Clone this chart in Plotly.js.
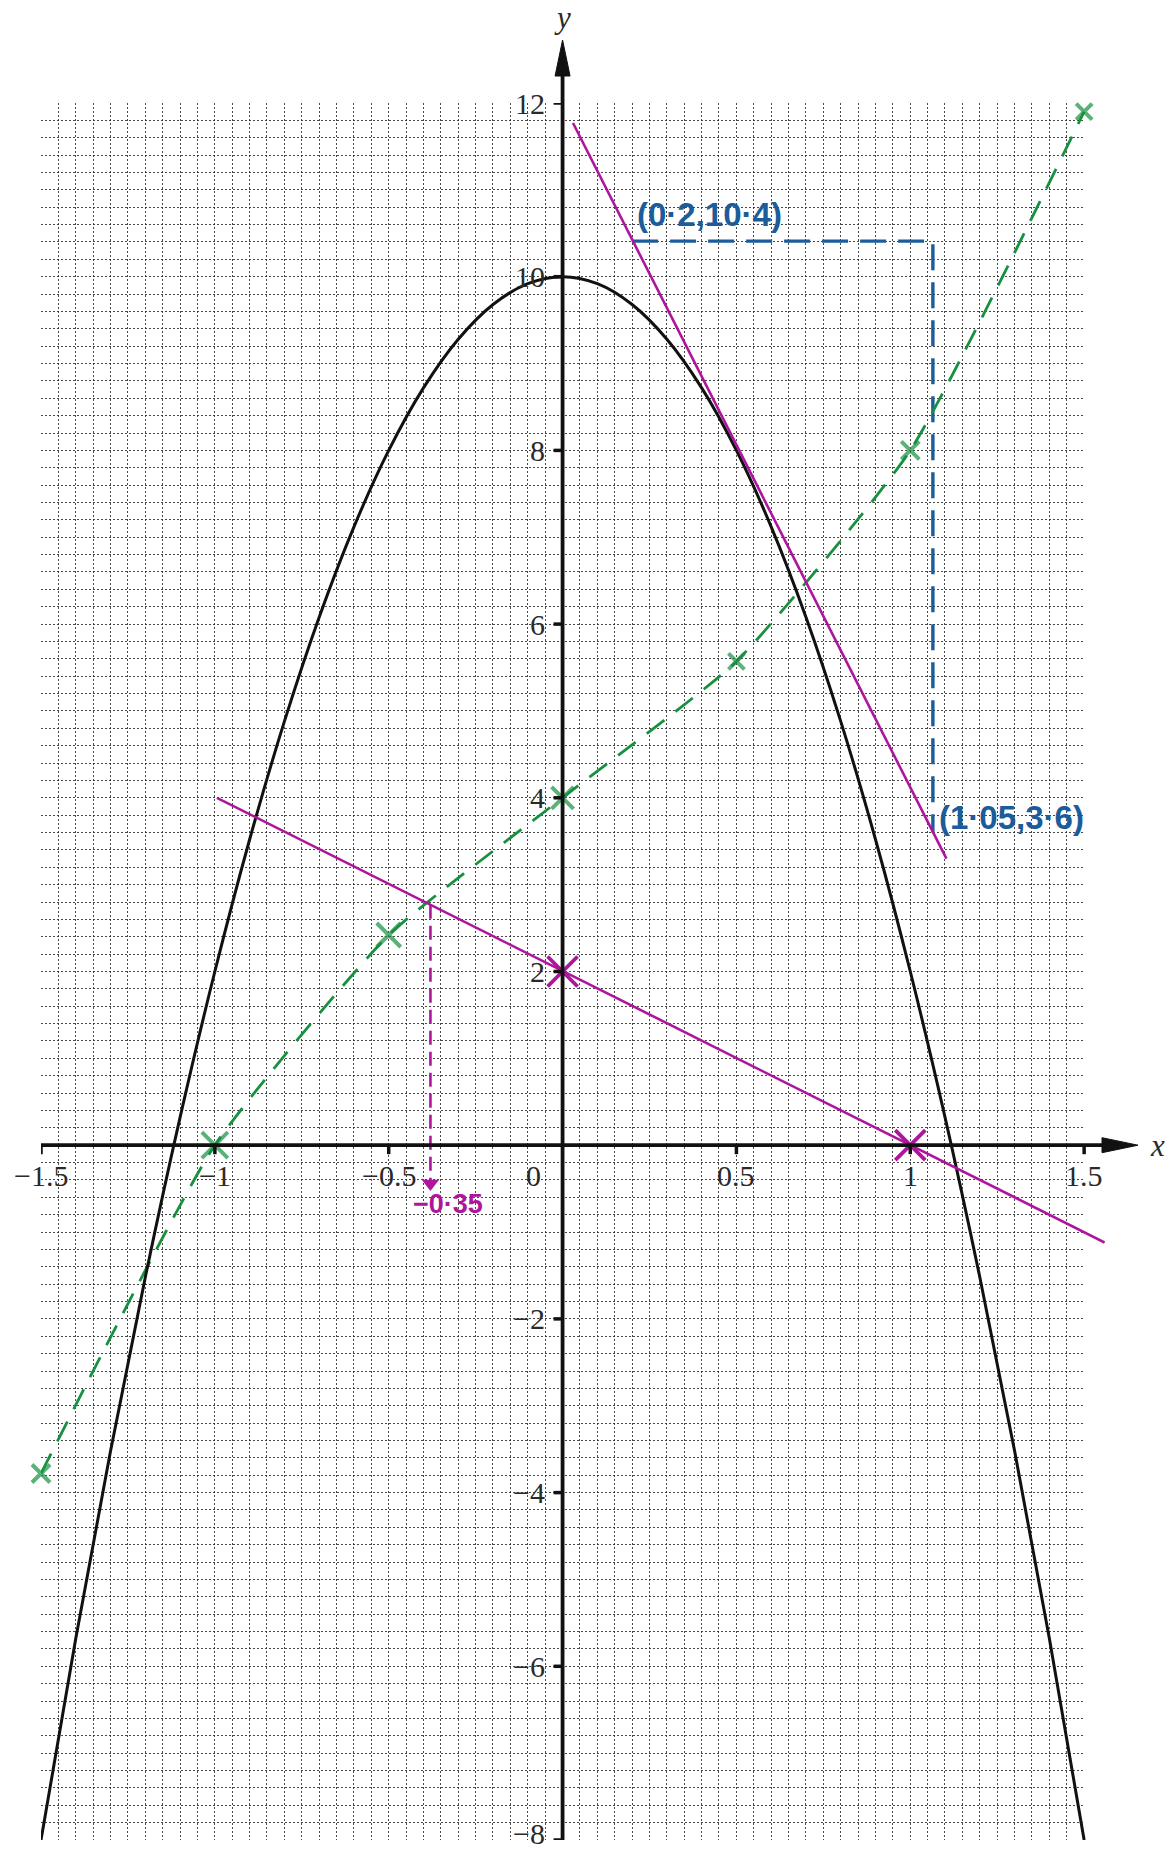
<!DOCTYPE html>
<html>
<head>
<meta charset="utf-8">
<script src="https://cdn.plot.ly/plotly-3.0.1.min.js"></script>
<style>
  html, body { margin: 0; padding: 0; background: #fff; }
  #plot { width: 1176px; height: 1852px; }
</style>
</head>
<body>
<div id="plot"></div>
<script>
// --- data ---
const curveX = [-1.5, -1.4, -1.3, -1.2, -1.1, -1.0, -0.9, -0.8, -0.7, -0.6, -0.5, -0.4, -0.3, -0.2, -0.1, 0,
                0.1, 0.2, 0.3, 0.4, 0.5, 0.6, 0.7, 0.8, 0.9, 1.0, 1.1, 1.2, 1.3, 1.4, 1.5];
const curveY = [-8, -5.68, -3.52, -1.52, 0.32, 2, 3.52, 4.88, 6.08, 7.12, 8, 8.72, 9.28, 9.68, 9.92, 10,
                9.92, 9.68, 9.28, 8.72, 8, 7.12, 6.08, 4.88, 3.52, 2, 0.32, -1.52, -3.52, -5.68, -8];

const tangentX = [0.03, 1.104];
const tangentY = [11.77, 3.3];

const straightX = [-0.994, 1.559];
const straightY = [4.0, -1.12];

const crossX = [0, 1];
const crossY = [2, 0];

const greenX = [-1.5, -1, -0.5, 0, 0.5, 1, 1.5];
const greenY = [-3.78, 0, 2.42, 4, 5.57, 8, 11.9];

const dropX = [-0.38, -0.38];
const dropY = [2.77, -0.44];

const blueX = [0.2, 1.065, 1.065];
const blueY = [10.41, 10.41, 3.6];

const xTickVals = [-1.5, -1, -0.5, 0.5, 1, 1.5];
const xTickText = ['\u22121.5', '\u22121', '\u22120.5', '0.5', '1', '1.5'];
const yTickVals = [12, 10, 8, 6, 4, 2, -2, -4, -6, -8];
const yTickText = ['12', '10', '8', '6', '4', '2', '\u22122', '\u22124', '\u22126', '\u22128'];

const noteText = ['(0\u00b72,10\u00b74)', '(1\u00b705,3\u00b76)', '\u22120\u00b735'];
const noteX = [0.423, 1.29, -0.33];
const noteY = [10.72, 3.77, -0.68];

// --- geometry ---
const W = 1176, H = 1852;
const M = { l: 41, r: 71, t: 103, b: 12 };
const gridRange = [-1.5, 1.5];      // the squared paper
const xRange = [-1.5, 1.56];        // a little room on the right for the line
const yRange = [-8, 12];
const pw = W - M.l - M.r, ph = H - M.t - M.b;
const gridDomainEnd = (1084 - M.l) / pw;

const paperX = v => (v - xRange[0]) / (xRange[1] - xRange[0]);
const paperY = v => (v - yRange[0]) / (yRange[1] - yRange[0]);
const pxToPaperX = px => (px - M.l) / pw;
const pxToPaperY = py => (H - M.b - py) / ph;

const magenta = '#ad169c';
const green = '#17913f';
const blue = '#1b5c9a';
const serif = 'Liberation Serif, Times New Roman, serif';
const hand = 'Liberation Sans Narrow, Arial Narrow, sans-serif';

const ox = paperX(0), oy = paperY(0);

// axis arrows (paper coordinates, not clipped)
const yTip = pxToPaperY(40), yBase = pxToPaperY(76);
const xTip = pxToPaperX(1138), xBase = pxToPaperX(1102);
const hw = 7.5 / pw, hh = 7.5 / ph;

const shapes = [
  { type: 'line', xref: 'paper', yref: 'paper', x0: ox, x1: ox, y0: 0, y1: yBase,
    line: { color: '#111', width: 3.8 } },
  { type: 'line', xref: 'paper', yref: 'paper', x0: 0, x1: xBase, y0: oy, y1: oy,
    line: { color: '#111', width: 3.8 } },
  { type: 'path', xref: 'paper', yref: 'paper',
    path: `M ${ox - hw} ${yBase} L ${ox} ${yTip} L ${ox + hw} ${yBase} Z`,
    fillcolor: '#111', line: { color: '#111', width: 1 } },
  { type: 'path', xref: 'paper', yref: 'paper',
    path: `M ${xBase} ${oy + hh} L ${xTip} ${oy} L ${xBase} ${oy - hh} Z`,
    fillcolor: '#111', line: { color: '#111', width: 1 } }
];

xTickVals.forEach(v => shapes.push({
  type: 'line', xref: 'x2', yref: 'y2', ysizemode: 'pixel', yanchor: 0,
  x0: v, x1: v, y0: -9, y1: 0, line: { color: '#111', width: 3.5 }
}));
yTickVals.forEach(v => shapes.push({
  type: 'line', xref: 'x2', yref: 'y2', xsizemode: 'pixel', xanchor: 0,
  x0: -9, x1: 0, y0: v, y1: v, line: { color: '#111', width: 3.5 }
}));

const annotations = [];
xTickVals.forEach((v, i) => annotations.push({
  xref: 'x2', yref: 'paper', x: v, y: oy, yshift: -30, text: xTickText[i],
  showarrow: false, xanchor: 'center', yanchor: 'middle',
  font: { family: serif, size: 30, color: '#2a2a2a' }
}));
annotations.push({
  xref: 'x2', yref: 'paper', x: 0, y: oy, xshift: -29, yshift: -30, text: '0',
  showarrow: false, xanchor: 'center', yanchor: 'middle',
  font: { family: serif, size: 30, color: '#2a2a2a' }
});
yTickVals.forEach((v, i) => annotations.push({
  xref: 'paper', yref: 'y2', x: ox, y: v, xshift: -16, yshift: v === -8 ? 7 : 0,
  text: yTickText[i], showarrow: false, xanchor: 'right', yanchor: 'middle',
  font: { family: serif, size: 30, color: '#2a2a2a' }
}));
annotations.push({
  xref: 'paper', yref: 'paper', x: ox, y: pxToPaperY(18), text: '<i>y</i>',
  showarrow: false, xanchor: 'center', yanchor: 'middle',
  font: { family: serif, size: 31, color: '#2a2a2a' }
});
annotations.push({
  xref: 'paper', yref: 'paper', x: pxToPaperX(1157), y: oy, text: '<i>x</i>',
  showarrow: false, xanchor: 'center', yanchor: 'middle',
  font: { family: serif, size: 31, color: '#2a2a2a' }
});
noteText.forEach((t, i) => annotations.push({
  xref: 'x2', yref: 'y2', x: noteX[i], y: noteY[i], text: '<b>' + t + '</b>',
  showarrow: false, xanchor: 'center', yanchor: 'middle',
  font: { family: hand, size: i === 2 ? 27 : 33, color: i === 2 ? magenta : blue }
}));

const onMain = { xaxis: 'x2', yaxis: 'y2', type: 'scatter', hoverinfo: 'skip' };

const traces = [
  // carries the squared paper (grid) subplot
  { x: [], y: [], type: 'scatter', xaxis: 'x', yaxis: 'y', hoverinfo: 'skip' },
  Object.assign({
    x: blueX, y: blueY, mode: 'lines',
    line: { color: blue, width: 3.4, dash: '26px,12px' }
  }, onMain),
  Object.assign({
    x: greenX, y: greenY, mode: 'lines',
    line: { color: green, width: 2.8, dash: '22px,14px', shape: 'spline', smoothing: 0.5 }
  }, onMain),
  Object.assign({
    x: greenX, y: greenY, mode: 'markers', cliponaxis: false,
    marker: { symbol: 'x-thin', size: [18, 26, 24, 22, 16, 18, 16], color: green,
              line: { color: green, width: 4 } }
  }, onMain),
  Object.assign({
    x: curveX, y: curveY, mode: 'lines',
    line: { color: '#111', width: 3, shape: 'spline', smoothing: 1 }
  }, onMain),
  Object.assign({
    x: tangentX, y: tangentY, mode: 'lines',
    line: { color: magenta, width: 2.6 }
  }, onMain),
  Object.assign({
    x: straightX, y: straightY, mode: 'lines',
    line: { color: magenta, width: 2.6 }
  }, onMain),
  Object.assign({
    x: crossX, y: crossY, mode: 'markers',
    marker: { symbol: 'x-thin', size: 30, color: magenta, line: { color: magenta, width: 3.8 } }
  }, onMain),
  Object.assign({
    x: dropX, y: dropY, mode: 'lines',
    line: { color: magenta, width: 2.6, dash: '14px,7px' }
  }, onMain),
  Object.assign({
    x: [dropX[1]], y: [dropY[1]], mode: 'markers',
    marker: { symbol: 'triangle-down', size: 15, color: magenta }
  }, onMain)
];

const gridStyle = {
  showgrid: true, gridcolor: 'rgba(40,40,40,0.85)', gridwidth: 1, griddash: '2px,2px',
  zeroline: false, showline: false, showticklabels: false, ticks: ''
};
const hidden = {
  showgrid: false, zeroline: false, showline: false, showticklabels: false, ticks: ''
};

const layout = {
  width: W, height: H,
  margin: M,
  showlegend: false,
  paper_bgcolor: '#fff',
  plot_bgcolor: 'rgba(0,0,0,0)',
  xaxis: Object.assign({ domain: [0, gridDomainEnd], range: gridRange, tick0: -1.5, dtick: 0.05, anchor: 'y' }, gridStyle),
  yaxis: Object.assign({ domain: [0, 1], range: yRange, tick0: -8, dtick: 0.2, anchor: 'x' }, gridStyle),
  xaxis2: Object.assign({ domain: [0, 1], range: xRange, anchor: 'y2' }, hidden),
  yaxis2: Object.assign({ domain: [0, 1], range: yRange, anchor: 'x2' }, hidden),
  shapes: shapes,
  annotations: annotations
};

Plotly.newPlot('plot', traces, layout, { staticPlot: true });
</script>
</body>
</html>
